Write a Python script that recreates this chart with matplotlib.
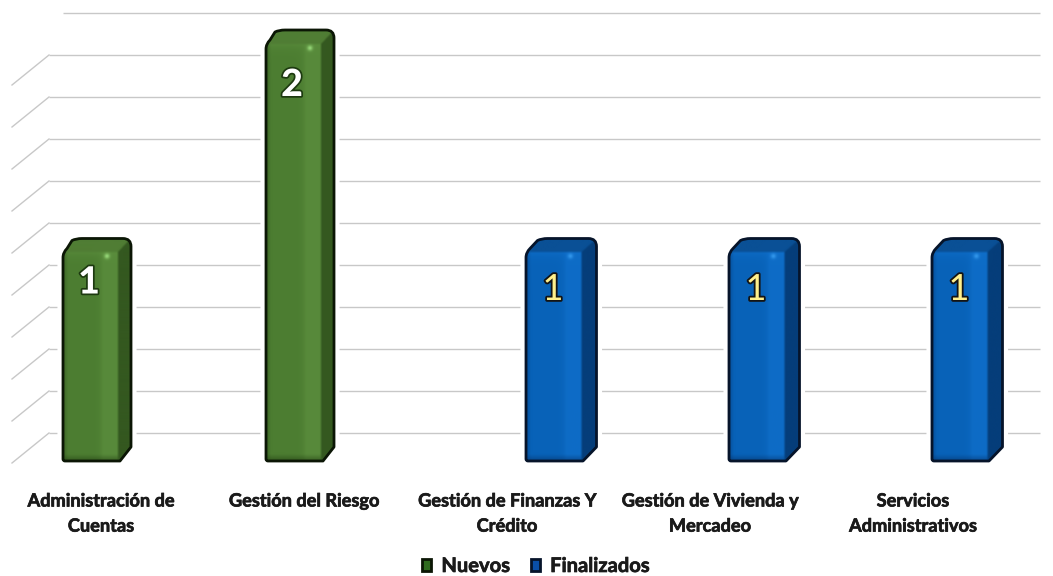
import numpy as np
import matplotlib
matplotlib.use("Agg")
import matplotlib.pyplot as plt
from matplotlib.path import Path
from matplotlib.patches import PathPatch, Patch
import matplotlib.patheffects as pe

categories = ["Administración de\nCuentas", "Gestión del Riesgo",
              "Gestión de Finanzas Y\nCrédito", "Gestión de Vivienda y\nMercadeo",
              "Servicios\nAdministrativos"]
nuevos = [1, 2, 0, 0, 0]
finalizados = [0, 0, 1, 1, 1]
grid_values = [0, 0.2, 0.4, 0.6, 0.8, 1.0, 1.2, 1.4, 1.6, 1.8, 2.0]

plt.rcParams["font.family"] = ["Lato", "DejaVu Sans"]
W_PX, H_PX = 1053, 576
fig = plt.figure(figsize=(W_PX / 100, H_PX / 100), dpi=100)
ax = fig.add_axes([0, 0, 1, 1])
ax.axis("off")

PX_X, PX_Y = 203.0, 208.5      # pixels per category / per unit
X0, Y0 = 101.0, 461.0          # pixel position of category 0 / value 0
ax.set_xlim(-X0 / PX_X, (W_PX - X0) / PX_X)
ax.set_ylim((Y0 - H_PX) / PX_Y, Y0 / PX_Y)
dx = lambda p: p / PX_X
dy = lambda p: p / PX_Y

BAR_W = 55.0
WALL_LEFT, WALL_RIGHT, FLOOR_LEFT = 49.0, 1040.0, 12.0
WALL_RISE, WALL_STEP = 28.0, 210.0
GRID = "#c8c8c8"


def draw_grid():
    for v in grid_values:
        y_wall = (Y0 - WALL_RISE - WALL_STEP * v)
        top = v == grid_values[-1]
        x0 = 63.0 if top else WALL_LEFT
        ax.plot([dx(x0 - X0), dx(WALL_RIGHT - X0)], [(Y0 - y_wall) / PX_Y] * 2,
                color=GRID, lw=1.0, zorder=1, solid_capstyle="butt")
        if not top:
            ax.plot([dx(FLOOR_LEFT - X0), dx(WALL_LEFT - X0)],
                    [(Y0 - y_wall - 30) / PX_Y, (Y0 - y_wall) / PX_Y],
                    color=GRID, lw=1.0, zorder=1)


def silhouette(x_left, value, DX, DY):
    """Outline of the bar in data units, rounded at its upper corners."""
    h = value * PX_Y
    r = 8.0
    P = lambda px, py: (x_left + dx(px), dy(py))
    verts = [P(2, 0), P(0, 0), P(0, 2), P(0, h - 5), P(0, h), P(4, h + 4), P(DX - 4, h + DY - 2),
             P(DX, h + DY), P(DX + 6, h + DY),
             P(BAR_W + DX - r, h + DY), P(BAR_W + DX, h + DY),
             P(BAR_W + DX, h + DY - r),
             P(BAR_W + DX, DY), P(BAR_W + 2, 0), P(2, 0)]
    codes = [Path.MOVETO, Path.CURVE3, Path.CURVE3, Path.LINETO, Path.CURVE3, Path.CURVE3, Path.LINETO,
             Path.CURVE3, Path.CURVE3, Path.LINETO, Path.CURVE3, Path.CURVE3,
             Path.LINETO, Path.LINETO, Path.CLOSEPOLY]
    return Path(verts, codes)


def smooth(img, n):
    k = np.ones(n) / n
    pad = n
    out = np.pad(img, ((pad, pad), (pad, pad), (0, 0)), mode="edge")
    for ch in range(3):
        out[..., ch] = np.apply_along_axis(lambda m: np.convolve(m, k, mode="same"), 1, out[..., ch])
        out[..., ch] = np.apply_along_axis(lambda m: np.convolve(m, k, mode="same"), 0, out[..., ch])
    return out[pad:-pad, pad:-pad]


def shade(value, pal, DX, DY):
    """Front, top and side faces with soft bevels, as an image in bar pixels."""
    h = value * PX_Y
    ss = 3
    W_T, H_T = BAR_W + DX, h + DY
    xs = (np.arange(int(W_T * ss)) + 0.5) / ss
    ys = (np.arange(int(H_T * ss)) + 0.5) / ss
    X, Y = np.meshgrid(xs, ys)
    front, band, top, side, rim, glow = [np.array(c, float) for c in pal]
    t = (np.exp(-np.maximum(BAR_W - 15 - X, 0) / 3.0) * 0.7)[..., None]
    col = front[None, None] * (1 - t) + band[None, None] * t
    lip = np.exp(-np.maximum(Y - DY, 0) / 5.0)[..., None] * 0.6
    col = col * (1 - lip) + band[None, None] * lip
    edge = np.clip((5 - X) / 5, 0, 1)[..., None] * 0.35
    col = col * (1 - edge) + rim[None, None] * edge
    low = np.clip((Y - (H_T - 7)) / 7, 0, 1)[..., None] * 0.5
    col = col * (1 - low) + rim[None, None] * low
    img = col.copy()
    is_top = (Y < DY) & (X < BAR_W + (DY - Y) * DX / DY)
    is_side = (X >= BAR_W) & ~is_top
    img[is_top] = top
    img[is_side] = side
    img = smooth(img, 7)
    d2 = (X - (BAR_W - 11)) ** 2 + (Y - (DY + 4)) ** 2
    g = np.exp(-d2 / 7.0)[..., None]
    img = img * (1 - g) + glow[None, None] * g
    return img / 255.0, W_T, H_T


GREEN = [(76, 125, 49), (92, 143, 62), (80, 125, 52), (52, 88, 32), (25, 50, 12), (150, 215, 120)]
BLUE = [(8, 98, 184), (16, 112, 204), (10, 80, 150), (5, 62, 122), (4, 40, 90), (50, 150, 235)]


def draw_bar(cat, value, offset_px, pal, edge, DX, DY):
    x_left = cat + dx(offset_px)
    path = silhouette(x_left, value, DX, DY)
    ax.add_patch(PathPatch(path, fc="white", ec="white", lw=8, zorder=2, joinstyle="round"))
    img, wt, ht = shade(value, pal, DX, DY)
    im = ax.imshow(img, extent=[x_left, x_left + dx(wt), 0, dy(ht)], origin="upper",
                   aspect="auto", zorder=3, interpolation="bilinear")
    clip = PathPatch(path, transform=ax.transData, fc="none", ec="none")
    ax.add_patch(clip)
    im.set_clip_path(clip)
    ax.add_patch(PathPatch(path, fc="none", ec=edge, lw=2.0, zorder=4, joinstyle="round"))


draw_grid()
drop_px = {1: 30.0, 2: 41.0}
for i, v in enumerate(nuevos):
    if v:
        draw_bar(i, v, -38.0, GREEN, "#0b1605", 13.0, 14.0)
        ax.text(i + dx(-12), v - dy(drop_px[v]), str(v), ha="center", va="center",
                fontsize=27, fontweight="black", color="white", zorder=6,
                path_effects=[pe.withStroke(linewidth=2.5, foreground="#1d3a10")])
for i, v in enumerate(finalizados):
    if v:
        draw_bar(i, v, 19.0, BLUE, "#06142a", 15.5, 14.0)
        ax.text(i + dx(46), v - dy(37), str(v), ha="center", va="center",
                fontsize=26, fontweight="regular", color="#fff08c", zorder=6,
                path_effects=[pe.withStroke(linewidth=2.6, foreground="#141414")])

label_fx = [pe.withStroke(linewidth=0.5, foreground="#1a1a1a")]
for i, name in enumerate(categories):
    ax.text(i, dy(Y0 - 492.5), name, ha="center", va="top", fontsize=13.1,
            fontweight="bold", color="#1a1a1a", linespacing=1.58, zorder=6,
            path_effects=label_fx)

handles = [Patch(fc="#2f6b1e", ec="#0b1605", lw=2), Patch(fc="#0a4fa8", ec="#06142a", lw=2)]
leg = ax.legend(handles, ["Nuevos", "Finalizados"], loc="center", ncol=2, frameon=False,
                bbox_to_anchor=(536 / W_PX, 1 - 566 / H_PX), bbox_transform=fig.transFigure,
                prop={"size": 14.5, "weight": "bold"}, handlelength=0.45, handleheight=0.5,
                handletextpad=0.5, columnspacing=1.05, labelcolor="#1a1a1a")
for t in leg.get_texts():
    t.set_path_effects(label_fx)

ax.set_xlim(-X0 / PX_X, (W_PX - X0) / PX_X)
ax.set_ylim((Y0 - H_PX) / PX_Y, Y0 / PX_Y)
fig.savefig("out.png", dpi=100, facecolor="white")
